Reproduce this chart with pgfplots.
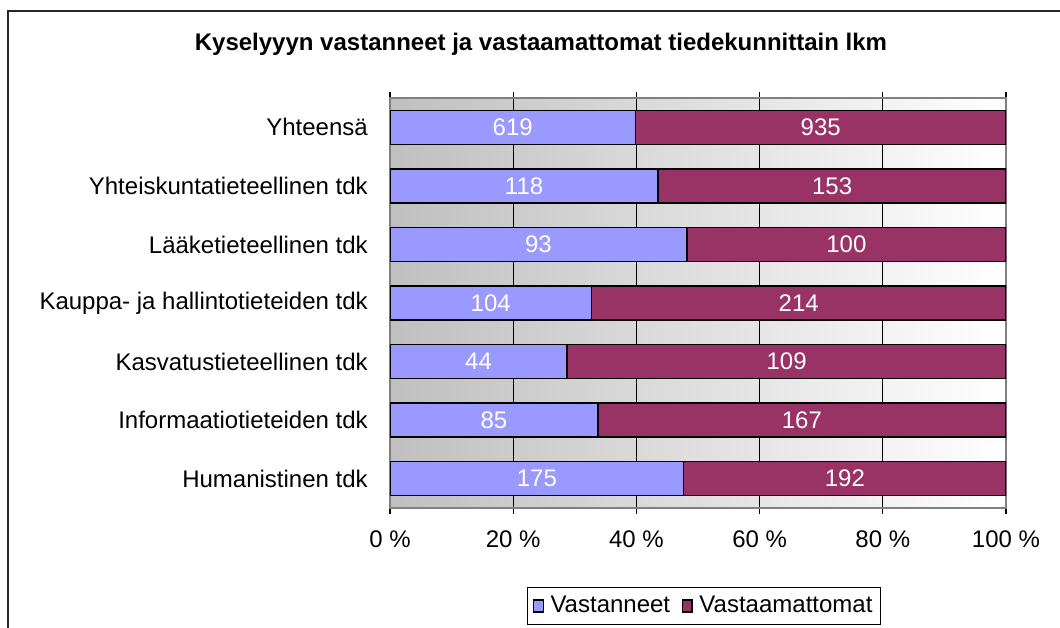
\documentclass[border=0pt]{standalone}
\usepackage{fontspec}
\setmainfont{Liberation Sans}
\usepackage{pgfplots}
\usepackage{pgfplotstable}
\pgfplotsset{compat=1.18}
\definecolor{vblue}{HTML}{9999FF}
\definecolor{vpurple}{HTML}{993366}
\definecolor{frame}{HTML}{808080}

% idx 0 = bottom row
\pgfplotstableread{
idx v n
0 175 192
1 85 167
2 44 109
3 104 214
4 93 100
5 118 153
6 619 935
}\faculty

\begin{document}
\fontsize{18}{21}\selectfont
\begin{tikzpicture}[x=0.75pt,y=-0.75pt]
\useasboundingbox (0,0) rectangle (1060,628);
\draw[black!85, line width=1.5pt] (8,640) -- (8,11) -- (1070,11);
\node[font=\bfseries] at (541,44) {Kyselyyyn vastanneet ja vastaamattomat tiedekunnittain lkm};

\begin{axis}[
    at={(292.5pt,-381pt)}, anchor=south west,
    scale only axis, width=462pt, height=307.5pt,
    xbar stacked, bar width=0.58,
    xmin=0, xmax=100, ymin=-0.5, ymax=6.5,
    /pgf/number format/assume math mode=true,
    axis background/.style={left color=black!25, right color=white},
    axis line style={frame, line width=1.1pt},
    tick style={black, line width=0.8pt},
    tick align=outside,
    xtick={0,20,40,60,80,100},
    xticklabels={0 \%,20 \%,40 \%,60 \%,80 \%,100 \%},
    xmajorgrids, major grid style={black, line width=0.75pt},
    major tick length=4.5pt,
    xticklabel style={yshift=-6pt},
    ytick={0,...,6},
    yticklabels={Humanistinen tdk,Informaatiotieteiden tdk,Kasvatustieteellinen tdk,Kauppa- ja hallintotieteiden tdk,Lääketieteellinen tdk,Yhteiskuntatieteellinen tdk,Yhteensä},
    y tick style={draw=none},
    minor ytick={-0.5,0.5,...,6.5},
    minor y tick style={black, line width=0.8pt},
    minor tick length=4.5pt,
    yticklabel style={xshift=-6pt},
    legend columns=2,
    legend style={at={(0.51,-0.239)}, anchor=center, draw=black, line width=0.75pt,
        inner xsep=4pt, inner ysep=4pt},
    legend image code/.code={\draw[#1, line width=0.9pt] (0pt,-4.5pt) rectangle (7pt,4.5pt);
        \path (10pt,0pt);},
]
\addplot[fill=vblue, draw=black, line width=1.1pt]
    table[x expr={100*\thisrow{v}/(\thisrow{v}+\thisrow{n})}, y=idx] {\faculty};
\addplot[fill=vpurple, draw=black, line width=1.1pt]
    table[x expr={100*\thisrow{n}/(\thisrow{v}+\thisrow{n})}, y=idx] {\faculty};
\legend{Vastanneet\rule{7pt}{0pt}, Vastaamattomat}
\end{axis}

% value labels centred in each segment
\begin{axis}[
    at={(292.5pt,-381pt)}, anchor=south west,
    scale only axis, width=462pt, height=307.5pt,
    xmin=0, xmax=100, ymin=-0.5, ymax=6.5,
    hide axis,
    /pgf/number format/assume math mode=true,
    nodes near coords,
    every node near coord/.style={white, anchor=center},
]
\addplot[draw=none, point meta=explicit]
    table[x expr={50*\thisrow{v}/(\thisrow{v}+\thisrow{n})}, y=idx, meta=v] {\faculty};
\addplot[draw=none, point meta=explicit]
    table[x expr={100*\thisrow{v}/(\thisrow{v}+\thisrow{n})+50*\thisrow{n}/(\thisrow{v}+\thisrow{n})}, y=idx, meta=n] {\faculty};
\end{axis}
\end{tikzpicture}
\end{document}
